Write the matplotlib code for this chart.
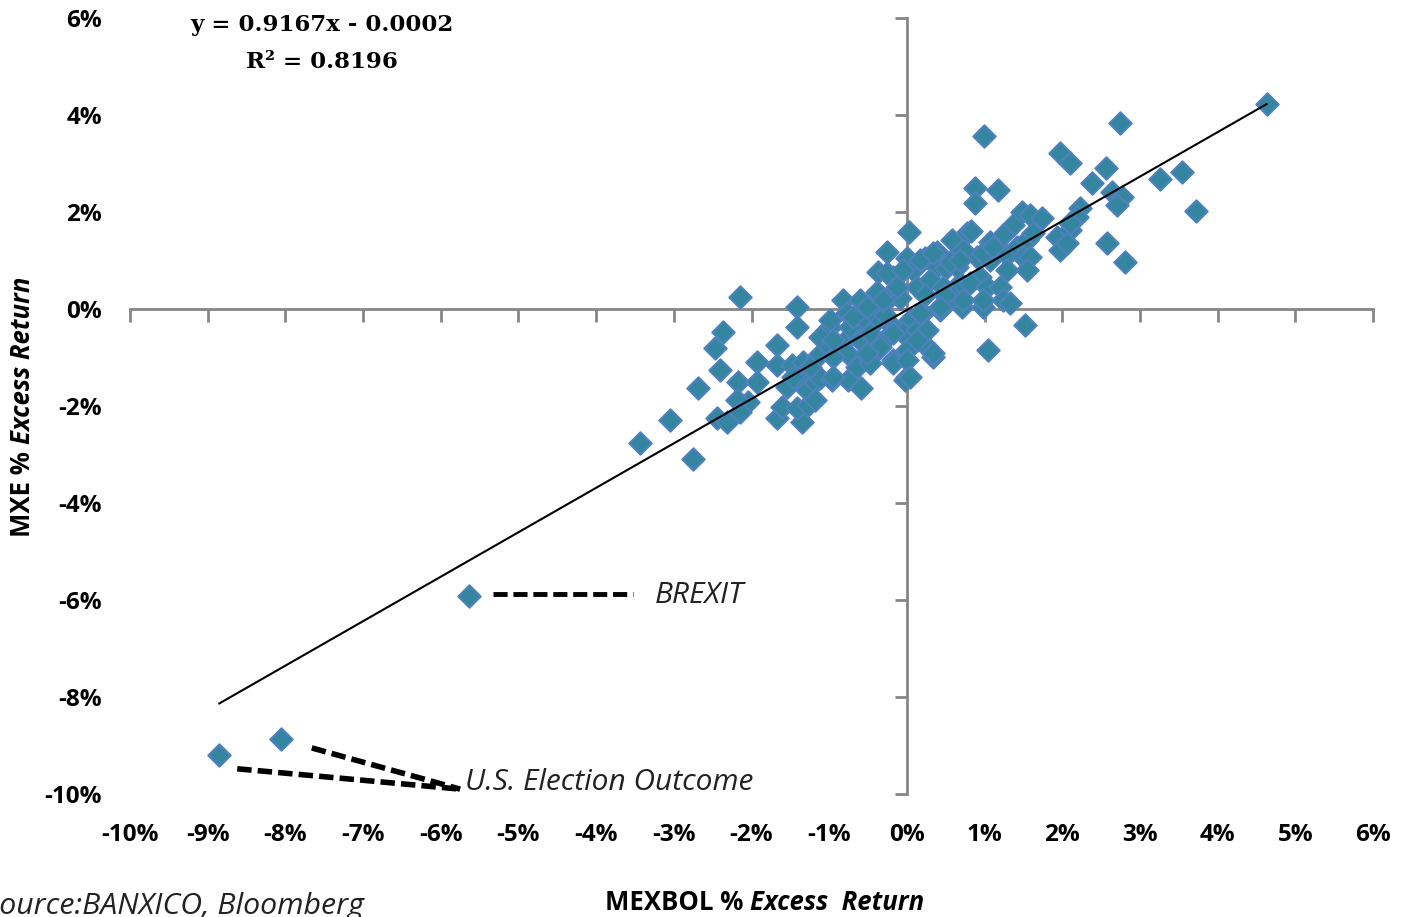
import matplotlib
matplotlib.use("Agg")
import matplotlib.pyplot as plt
import numpy as np
from matplotlib.ticker import FuncFormatter

# ---- data (percent) ----
mexbol_pct = [
    -8.85, -8.06, -5.64, 4.63, 2.74, 0.99, 1.97, 2.10, 2.56, 3.26, 3.54, 3.72, 2.81, 2.57,
    2.38, 2.64, 2.77, 2.70, 2.23, 0.88, 1.17, 0.88, 1.04, 1.52, 0.03, -0.26, -2.15, -1.42,
    -1.42, -2.37, -2.47, -2.41, -2.69, -3.44, -3.05, -2.75, -2.45, -2.32, -2.18, -1.93, -1.93,
    -1.67, -2.05, -2.19, -2.15, -1.67, -1.35, -1.61, -1.42, -1.27, -1.67, -1.48, -1.34, -1.16,
    -1.54, -1.34, -1.29, -1.47, -1.18, -1.12, -0.97, -0.76, -0.59, -1.18,
    -0.37, 0.00, 0.23, 0.39, 0.58, 0.77, -0.18, 0.08, 0.39, 0.51, 0.64, 0.72, -0.82, -0.60,
    -0.39, -0.26, -0.09, 0.13, 0.30, 0.46, 0.68, 0.71, 0.42, 0.21, 0.04, -0.18, -0.39, -0.60,
    -0.77, -0.99, -0.73, -1.12, -0.99, -0.82, -0.60, -0.48, -0.26, -0.05, 0.13, 0.26, 0.33,
    0.00, -0.18, -0.39, -0.57, -0.64, -0.48, -0.77, -0.95, -1.25, -0.95, -0.18, 0.00, -0.03,
    0.82, 1.48, 1.58, 1.74, 1.36, 1.24, 1.07, 0.90, 0.72, 0.64, 1.07, 1.29, 1.42, 1.54, 1.62,
    1.49, 1.58, 1.54, 1.29, 0.94, 0.81, 1.03, 1.20, 1.24, 1.33, 0.98, 0.59, 1.93, 2.10, 1.97,
    2.06, 2.19, 2.10, 0.55, 0.49, 0.23, -0.48, -0.28,
    -0.99, -0.95, -0.69, -0.51, -0.31, -0.13, -0.26, -0.05, 0.17, 0.33, 0.68, 0.98, 1.11,
    0.98, 0.72, 0.42, 0.17, 0.26, 0.13, -0.18, -0.35, -0.51, 0.00, 0.33, 0.04,
]
mxe_pct = [
    -9.20, -8.87, -5.92, 4.23, 3.84, 3.57, 3.22, 3.01, 2.91, 2.68, 2.82, 2.02, 0.97, 1.36,
    2.60, 2.41, 2.31, 2.14, 2.08, 2.49, 2.45, 2.19, -0.85, -0.33, 1.59, 1.18, 0.25, 0.04,
    -0.37, -0.47, -0.80, -1.26, -1.63, -2.76, -2.29, -3.09, -2.25, -2.33, -1.51, -1.09, -1.51,
    -0.74, -1.92, -1.88, -2.12, -2.25, -2.33, -2.02, -2.04, -1.98, -1.15, -1.15, -1.09, -0.99,
    -1.61, -1.53, -1.67, -1.40, -1.51, -1.42, -1.46, -1.46, -1.63, -1.88,
    0.76, 1.05, 1.05, 1.18, 1.42, 1.57, 0.66, 0.80, 0.87, 0.85, 1.07, 1.18, 0.19, 0.19,
    0.35, 0.19, 0.23, 0.45, 0.60, 0.45, 0.54, 0.04, -0.02, -0.08, -0.23, -0.37, -0.23, -0.23,
    -0.08, -0.37, -0.37, -0.58, -0.78, -0.70, -0.64, -0.49, -0.58, -0.49, -0.43, -0.78, -0.99,
    -0.85, -1.05, -0.85, -0.99, -1.20, -1.11, -0.91, -0.99, -1.20, -1.40, -1.11, -1.40, -1.46,
    1.60, 2.00, 1.94, 1.88, 1.73, 1.53, 1.38, 1.07, 1.22, 0.87, 1.01, 1.11, 1.28, 1.42, 1.57,
    1.07, 1.07, 0.80, 0.80, 0.66, 0.54, 0.45, 0.45, 0.19, 0.12, 0.04, 0.25, 1.48, 1.63, 1.22,
    1.36, 1.90, 1.77, 0.97, 0.29, 0.29, -0.02, -0.12,
    -0.23, -0.64, -0.16, 0.04, 0.19, 0.45, 0.74, 0.80, 1.01, 1.15, 1.01, 1.15, 1.28,
    0.19, 0.19, 0.04, -0.08, -0.43, -0.64, -0.49, -0.78, -0.91, -1.05, -0.91, -1.40,
]
slope, intercept = 0.9167, -0.0002   # fitted on decimal returns
equation_text = "y = 0.9167x - 0.0002"
r2_text = "R² = 0.8196"
x_ticks = list(range(-10, 7))
y_ticks = list(range(-10, 7, 2))

W, H = 1406, 917
fig = plt.figure(figsize=(W / 100, H / 100), dpi=100)
ax = fig.add_axes([130 / W, 1 - 794 / H, (1373 - 130) / W, (794 - 18) / H])
ax.set_xlim(-10, 6)
ax.set_ylim(-10, 6)

axis_col = "#868686"
for s in ["top", "right"]:
    ax.spines[s].set_visible(False)
ax.spines["left"].set_position(("data", 0))
ax.spines["bottom"].set_position(("data", 0))
for s in ["left", "bottom"]:
    ax.spines[s].set_color(axis_col)
    ax.spines[s].set_linewidth(2)
ax.set_xticks(x_ticks)
ax.set_yticks(y_ticks)
ax.tick_params(axis="x", direction="out", length=9, width=2, color=axis_col, labelbottom=False)
ax.tick_params(axis="y", direction="out", length=9, width=2, color=axis_col, labelleft=False)

pct_fmt = FuncFormatter(lambda v, p: f"{v:.0f}%")
secx = ax.secondary_xaxis("bottom")
secx.set_xticks(x_ticks)
secx.xaxis.set_major_formatter(pct_fmt)
secx.spines["bottom"].set_visible(False)
secx.tick_params(length=0, pad=21)
secy = ax.secondary_yaxis("left")
secy.set_yticks(y_ticks)
secy.yaxis.set_major_formatter(pct_fmt)
secy.spines["left"].set_visible(False)
secy.tick_params(length=0, pad=20)
for lab in secx.get_xticklabels() + secy.get_yticklabels():
    lab.set_fontfamily("Open Sans")
    lab.set_fontweight("bold")
    lab.set_fontsize(17.5)

x = np.array(mexbol_pct)
y = np.array(mxe_pct)
ax.scatter(x, y, marker="D", s=130, facecolor="#34859F", edgecolor="#4F81BD",
           linewidth=1.5, zorder=3)

# trendline (fit on decimals)
xl = np.array([x.min(), x.max()])
yl = (slope * xl / 100 + intercept) * 100
ax.plot(xl, yl, color="black", lw=1.5, zorder=4)

# equation
fig.text(322 / W, 1 - 25 / H, equation_text, ha="center", va="center",
         family="DejaVu Serif", fontweight="bold", fontsize=16.5)
fig.text(322 / W, 1 - 62 / H, r2_text, ha="center", va="center",
         family="DejaVu Serif", fontweight="bold", fontsize=16.5)

# annotations
ax.plot([-5.33, -3.53], [-5.88, -5.88], color="black", lw=3.5, dashes=(2.9, 1.2), zorder=4)
ax.text(-3.24, -5.90, "BREXIT", fontstyle="italic", family="Open Sans", fontsize=21.5,
        ha="left", va="center", color="#222222")
ax.plot([-8.62, -5.75], [-9.48, -9.90], color="black", lw=4, dashes=(2.6, 1.1), zorder=4)
ax.plot([-7.66, -5.75], [-9.05, -9.90], color="black", lw=4, dashes=(2.6, 1.1), zorder=4)
ax.text(-5.69, -9.77, "U.S. Election Outcome", fontstyle="italic", family="Open Sans",
        fontsize=21.5, ha="left", va="center", color="#222222")

# source (partly cut off at the figure edge, as in the original)
fig.text(-16 / W, 1 - 892 / H, "Source:BANXICO, Bloomberg", fontstyle="italic",
         family="Open Sans", fontsize=21.8, ha="left", va="top", color="#222222")

# axis labels (mixed styles)
fig.canvas.draw()
rend = fig.canvas.get_renderer()
lab_kw = dict(family="Open Sans", fontweight="bold", fontsize=18.5, color="black")
t1 = fig.text(0, 0, "MEXBOL % ", ha="left", va="center", **lab_kw)
t2 = fig.text(0, 0, "Excess  Return", ha="left", va="center", fontstyle="italic", **lab_kw)
w1 = t1.get_window_extent(rend).width
w2 = t2.get_window_extent(rend).width
cx, cy = 765, 903
x0 = cx - (w1 + w2) / 2
t1.set_position((x0 / W, 1 - cy / H))
t2.set_position(((x0 + w1) / W, 1 - cy / H))

u1 = fig.text(0, 0, "MXE % ", ha="center", va="bottom", rotation=90, **lab_kw)
u2 = fig.text(0, 0, "Excess Return", ha="center", va="bottom", rotation=90,
              fontstyle="italic", **lab_kw)
h1 = u1.get_window_extent(rend).height
h2 = u2.get_window_extent(rend).height
cx, cy = 22, 407
yb = cy + (h1 + h2) / 2
u1.set_position((cx / W, 1 - yb / H))
u2.set_position((cx / W, 1 - (yb - h1) / H))
u1.set_rotation_mode("anchor"); u2.set_rotation_mode("anchor")
u1.set_ha("left"); u2.set_ha("left")
u1.set_va("center"); u2.set_va("center")

fig.savefig("out.png", dpi=100)
